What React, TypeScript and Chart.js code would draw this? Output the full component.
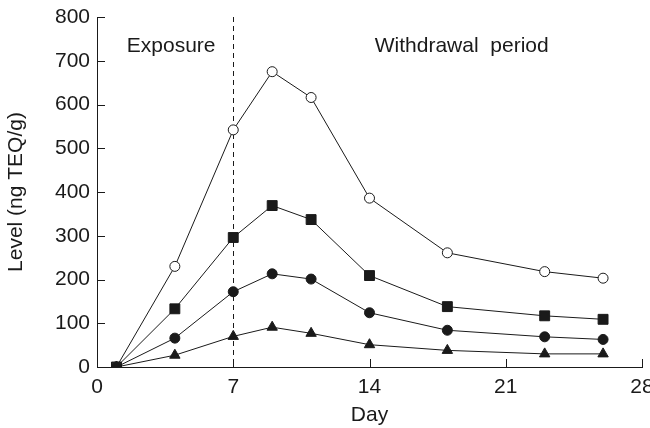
import React, { useEffect, useRef } from "react";
import { Chart, registerables } from "chart.js";

Chart.register(...registerables);

const days = [1, 4, 7, 9, 11, 14, 18, 23, 26];
const openCircles = [0, 230, 542, 675, 616, 386, 261, 218, 203];
const squares = [0, 133, 296, 369, 337, 209, 138, 117, 109];
const circles = [0, 66, 172, 213, 201, 124, 84, 69, 63];
const triangles = [0, 27, 70, 91, 77, 51, 38, 30, 30];

const xTickStep = 7;
const xMax = 28;
const yTickStep = 100;
const yMax = 800;
const exposureEndDay = 7;
const exposureLabel = "Exposure";
const withdrawalLabel = "Withdrawal  period";
const xTitle = "Day";
const yTitle = "Level (ng TEQ/g)";

const FONT = "'Liberation Sans', Arial, Helvetica, sans-serif";
const INK = "#1a1a1a";
const FS = 21;

const toPoints = (ys: number[]) => days.map((d, i) => ({ x: d, y: ys[i] }));

const decorPlugin = {
  id: "decor",
  beforeDatasetsDraw(chart: any) {
    const { ctx, chartArea, scales } = chart;
    const x = scales.x.getPixelForValue(exposureEndDay);
    ctx.save();
    ctx.strokeStyle = INK;
    ctx.lineWidth = 1;
    ctx.setLineDash([5, 4]);
    ctx.beginPath();
    ctx.moveTo(Math.round(x) + 0.5, chartArea.top);
    ctx.lineTo(Math.round(x) + 0.5, chartArea.bottom);
    ctx.stroke();
    ctx.restore();
  },
  afterDraw(chart: any) {
    const { ctx, chartArea, scales } = chart;
    ctx.save();
    ctx.strokeStyle = INK;
    ctx.lineWidth = 1;
    ctx.beginPath();
    const tl = 8;
    scales.x.ticks.forEach((t: any) => {
      const px = Math.round(scales.x.getPixelForValue(t.value)) + 0.5;
      ctx.moveTo(px, chartArea.bottom);
      ctx.lineTo(px, chartArea.bottom - tl);
    });
    scales.y.ticks.forEach((t: any) => {
      const py = Math.round(scales.y.getPixelForValue(t.value)) + 0.5;
      ctx.moveTo(chartArea.left, py);
      ctx.lineTo(chartArea.left + tl, py);
    });
    ctx.stroke();
    ctx.fillStyle = INK;
    ctx.font = `${FS}px ${FONT}`;
    ctx.textBaseline = "alphabetic";
    ctx.textAlign = "left";
    const yText = chartArea.top + 35;
    ctx.fillText(exposureLabel, scales.x.getPixelForValue(1.53), yText);
    ctx.fillText(withdrawalLabel, scales.x.getPixelForValue(14.27), yText);
    ctx.restore();
  },
};

export default function App() {
  const ref = useRef<HTMLCanvasElement>(null);
  useEffect(() => {
    if (!ref.current) return;
    const common = {
      borderColor: INK,
      borderWidth: 1,
      pointBorderColor: INK,
      pointBorderWidth: 1,
      showLine: true,
      fill: false,
      tension: 0,
    };
    const chart = new Chart(ref.current, {
      type: "line",
      data: {
        datasets: [
          { ...common, label: "triangles", data: toPoints(triangles), pointStyle: "triangle", pointRadius: 6, pointBackgroundColor: INK },
          { ...common, label: "circles", data: toPoints(circles), pointStyle: "circle", pointRadius: 5, pointBackgroundColor: INK },
          { ...common, label: "open", data: toPoints(openCircles), pointStyle: "circle", pointRadius: 5, pointBackgroundColor: "#fff" },
          { ...common, label: "squares", data: toPoints(squares), pointStyle: "rect", pointRadius: 7, pointBackgroundColor: INK },
        ],
      },
      options: {
        animation: false,
        responsive: false,
        devicePixelRatio: 1,
        layout: { padding: { left: 0, right: 8, top: 17, bottom: 0 } },
        plugins: { legend: { display: false }, tooltip: { enabled: false } },
        scales: {
          x: {
            type: "linear",
            min: 0,
            max: xMax,
            ticks: { stepSize: xTickStep, padding: 8, color: INK, font: { family: FONT, size: FS }, maxRotation: 0 },
            grid: { display: true, drawOnChartArea: false, drawTicks: false },
            border: { display: true, color: INK, width: 1 },
            title: { display: true, text: xTitle, color: INK, font: { family: FONT, size: FS }, padding: { top: 0, bottom: 0 } },
            afterFit: (s: any) => {
              s.height = 61;
              s.paddingLeft = 0;
              s.paddingRight = 0;
            },
          },
          y: {
            type: "linear",
            min: 0,
            max: yMax,
            ticks: { stepSize: yTickStep, padding: 7, color: INK, font: { family: FONT, size: FS } },
            grid: { display: true, drawOnChartArea: false, drawTicks: false },
            border: { display: true, color: INK, width: 1 },
            title: { display: true, text: yTitle, color: INK, font: { family: FONT, size: FS }, padding: { top: 4, bottom: 4 } },
            afterFit: (s: any) => {
              s.width = 97;
              s.paddingTop = 0;
              s.paddingBottom = 0;
            },
          },
        },
      },
      plugins: [decorPlugin],
    } as any);
    return () => chart.destroy();
  }, []);
  return (
    <div style={{ position: "fixed", left: 0, top: 0, width: 650, height: 428, background: "#fff" }}>
      <canvas ref={ref} width={650} height={428} />
    </div>
  );
}
